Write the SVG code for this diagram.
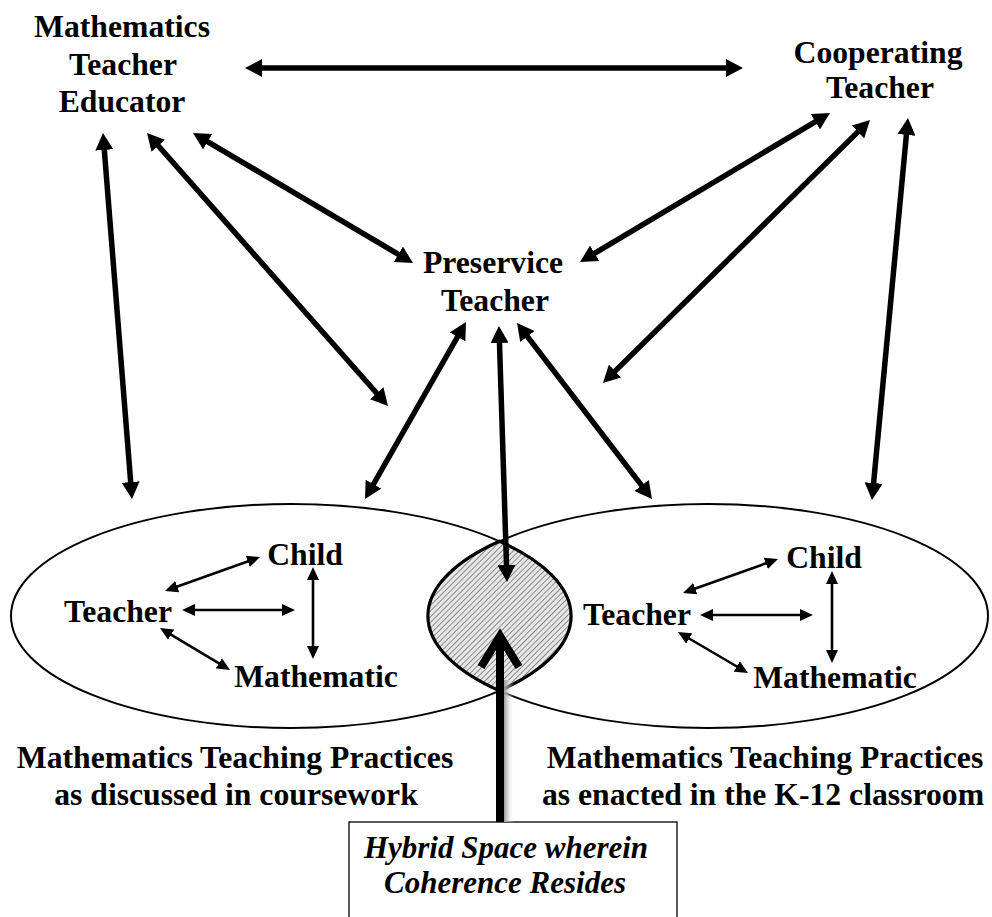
<svg xmlns="http://www.w3.org/2000/svg" width="992" height="917" viewBox="0 0 992 917">
<style>
text{font-family:"Liberation Serif","Times New Roman",serif;font-weight:bold;font-size:31.7px;fill:#000;text-anchor:middle}
.it{font-style:italic;font-size:31px}
.thick{stroke:#000;stroke-width:5.5;fill:none;marker-start:url(#big);marker-end:url(#big)}
.thin{stroke:#000;stroke-width:2.6;fill:none;marker-start:url(#small);marker-end:url(#small)}
.ell{fill:none;stroke:#000;stroke-width:2}
</style>
<defs>
<marker id="big" markerUnits="userSpaceOnUse" markerWidth="18" markerHeight="18" refX="9" refY="9" orient="auto-start-reverse"><path d="M0,0 L17,9 L0,18 z" fill="#000"/></marker>
<marker id="small" markerUnits="userSpaceOnUse" markerWidth="13" markerHeight="12" refX="8" refY="6" orient="auto-start-reverse"><path d="M0,0 L13,6 L0,12 z" fill="#000"/></marker>
<pattern id="hatch" patternUnits="userSpaceOnUse" width="4" height="4" patternTransform="rotate(45)"><rect width="4" height="4" fill="#e8e8e8"/><line x1="0" y1="0" x2="0" y2="4" stroke="#555" stroke-width="1.3"/></pattern>
<linearGradient id="shadow" x1="0" y1="0" x2="1" y2="0"><stop offset="0" stop-color="#999"/><stop offset="1" stop-color="#fff" stop-opacity="0"/></linearGradient>
</defs>

<g id="ellipse-coursework"><ellipse class="ell" cx="291" cy="616" rx="280" ry="112"/></g>
<g id="ellipse-classroom"><ellipse class="ell" cx="708" cy="616" rx="280" ry="112"/></g>
<g id="hybrid-lens"><path d="M499.5,541.2 A280,112 0 0 1 499.5,690.8 A280,112 0 0 1 499.5,541.2 z" fill="url(#hatch)" stroke="#000" stroke-width="3.2"/></g>

<g id="mte"><text x="122" y="37">Mathematics</text><text x="123" y="75">Teacher</text><text x="122" y="112">Educator</text></g>
<g id="ct"><text x="878" y="63">Cooperating</text><text x="880" y="98">Teacher</text></g>
<g id="pt"><text x="493" y="273">Preservice</text><text x="495" y="311">Teacher</text></g>
<g id="left-triad"><text x="305" y="565">Child</text><text x="118" y="622">Teacher</text><text x="316" y="687">Mathematic</text></g>
<g id="right-triad"><text x="824" y="568">Child</text><text x="637" y="625">Teacher</text><text x="835" y="688">Mathematic</text></g>
<g id="label-coursework"><text x="235" y="768">Mathematics Teaching Practices</text><text x="236" y="805">as discussed in coursework</text></g>
<g id="label-classroom"><text x="765" y="768">Mathematics Teaching Practices</text><text x="763" y="805">as enacted in the K-12 classroom</text></g>
<g id="hybrid-box"><rect x="349" y="822" width="328" height="110" fill="#fff" stroke="#000" stroke-width="1.3"/><text class="it" x="506" y="858">Hybrid Space wherein</text><text class="it" x="505" y="893">Coherence Resides</text></g>

<g id="connectors">
<line class="thick" x1="253" y1="68" x2="735" y2="68"/>
<line class="thick" x1="103.6" y1="141" x2="131.4" y2="491"/>
<line class="thick" x1="152.3" y1="139" x2="382.7" y2="400"/>
<line class="thick" x1="199.9" y1="137.1" x2="406.1" y2="258.9"/>
<line class="thick" x1="462" y1="329" x2="369" y2="492"/>
<line class="thick" x1="521.9" y1="329.4" x2="647.1" y2="492.6"/>
<line class="thick" x1="823.1" y1="117.1" x2="586.9" y2="257.9"/>
<line class="thick" x1="864.3" y1="125.6" x2="608.7" y2="377.4"/>
<line class="thick" x1="907.25" y1="126" x2="872.75" y2="492"/>
<line class="thick" x1="499.2" y1="334" x2="506.8" y2="574"/>
<line class="thin" x1="169.7" y1="589.3" x2="255.3" y2="558.7"/>
<line class="thin" x1="187" y1="610" x2="290" y2="610"/>
<line class="thin" x1="313" y1="572" x2="313" y2="654"/>
<line class="thin" x1="164.3" y1="630.6" x2="225.7" y2="667.4"/>
<line class="thin" x1="687.7" y1="591.3" x2="773.3" y2="560.7"/>
<line class="thin" x1="705" y1="615" x2="808" y2="615"/>
<line class="thin" x1="832" y1="576" x2="832" y2="658"/>
<line class="thin" x1="682.3" y1="634.5" x2="743.7" y2="670.5"/>
<rect x="504" y="680" width="10" height="142" fill="url(#shadow)"/>
<line x1="500" y1="822" x2="500" y2="636" stroke="#000" stroke-width="8"/>
<polyline points="481,667 500,636 519,667" fill="none" stroke="#000" stroke-width="8" stroke-linejoin="miter"/>
</g>
</svg>
